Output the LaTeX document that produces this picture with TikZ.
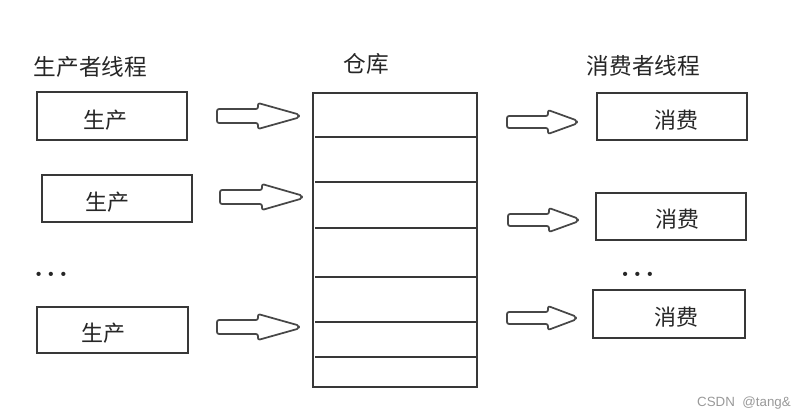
\documentclass[tikz,border=0pt]{standalone}
\usepackage{fontspec}
\newfontfamily\cjk{Noto Sans CJK SC}
\newfontfamily\wmfont{Liberation Sans}
\usetikzlibrary{calc}
\begin{document}
\begin{tikzpicture}[x=0.75pt,y=-0.75pt,
  thread/.style={draw=black!78, line width=1.4pt, fill=white, inner sep=0pt,
     minimum width=112.5pt, minimum height=35pt},
  boxtext/.style={font=\cjk\fontsize{16.5}{18}\selectfont, text=black!85, inner sep=0pt},
  title/.style={font=\cjk\fontsize{17}{19}\selectfont, text=black!85, inner sep=0pt},
  store/.style={draw=black!78, line width=1.4pt, fill=white, inner sep=0pt,
     minimum width=123pt, minimum height=220.5pt},
  rowline/.style={draw=black!78, line width=1.3pt},
  blockarr/.style={draw=black!72, line width=1.3pt, fill=white, rounded corners=1.5pt, line join=round},
  dots/.style={font=\bfseries\fontsize{22}{24}\selectfont, text=black!85, inner sep=0pt, anchor=base},
  wm/.style={font=\wmfont\fontsize{10}{12}\selectfont, text=black!40, inner sep=0pt}
]
\useasboundingbox (0,0) rectangle (804,418);

% block arrow: #1 name, #2 x0, #3 head start, #4 tip, #5 y, #6 shaft half, #7 head half
\newcommand\blockarrow[7]{%
  \coordinate (#1) at (#2,#5);
  \draw[blockarr] ($(#1)+(0,-#6)$) -- (#3,#5-#6) -- (#3,#5-#7) -- (#4,#5-1.5)
     -- (#4,#5+1.5) -- (#3,#5+#7) -- (#3,#5+#6) -- ($(#1)+(0,#6)$) -- cycle;}

% titles
\node[title] (tp) at (90.5,67) {生产者线程};
\node[title] (tw) at (366.5,64) {仓库};
\node[title] (tc) at (643.5,66) {消费者线程};

% producers
\node[thread, minimum width=112pt, minimum height=36pt] (p1) at (112,116) {};
\node[boxtext] at ($(p1.center)+(-7,4)$) {生产};
\node[thread, minimum width=112.5pt, minimum height=35pt] (p2) at (117,198.5) {};
\node[boxtext] at ($(p2.center)+(-10,4)$) {生产};
\node[dots] (pd) at (51,276) {.\hspace{2.4pt}.\hspace{2.4pt}.};
\node[thread, minimum width=113pt, minimum height=34.5pt] (p3) at (112.5,330) {};
\node[boxtext] at ($(p3.center)+(-9,3)$) {生产};

% producer arrows
\blockarrow{a1}{217}{258}{299}{116}{7}{13}
\blockarrow{a2}{220}{262}{302}{197}{7}{13}
\blockarrow{a3}{217}{258}{299}{327}{7}{13}

% warehouse
\node[store] (wh) at (395,240) {};
\foreach \yy in {137,182,228,277,322,357}
  \draw[rowline] (315,\yy) -- (476,\yy);

% consumer arrows
\blockarrow{c1}{507}{548}{577}{122}{6}{12}
\blockarrow{c2}{508}{549}{578}{220}{6}{12}
\blockarrow{c3}{507}{548}{576}{318}{6}{12}

% consumers
\node[thread, minimum width=112.5pt, minimum height=35pt] (k1) at (672,116.5) {};
\node[boxtext] at ($(k1.center)+(4,4)$) {消费};
\node[thread, minimum width=112.5pt, minimum height=35pt] (k2) at (671,216.5) {};
\node[boxtext] at ($(k2.center)+(6,3)$) {消费};
\node[dots] (kd) at (637.5,276) {.\hspace{2.4pt}.\hspace{2.4pt}.};
\node[thread, minimum width=114pt, minimum height=36pt] (k3) at (669,314) {};
\node[boxtext] at ($(k3.center)+(7,3)$) {消费};

% watermark
\node[wm] (w) at (744,403) {CSDN\ \ @tang\&};
\end{tikzpicture}
\end{document}
